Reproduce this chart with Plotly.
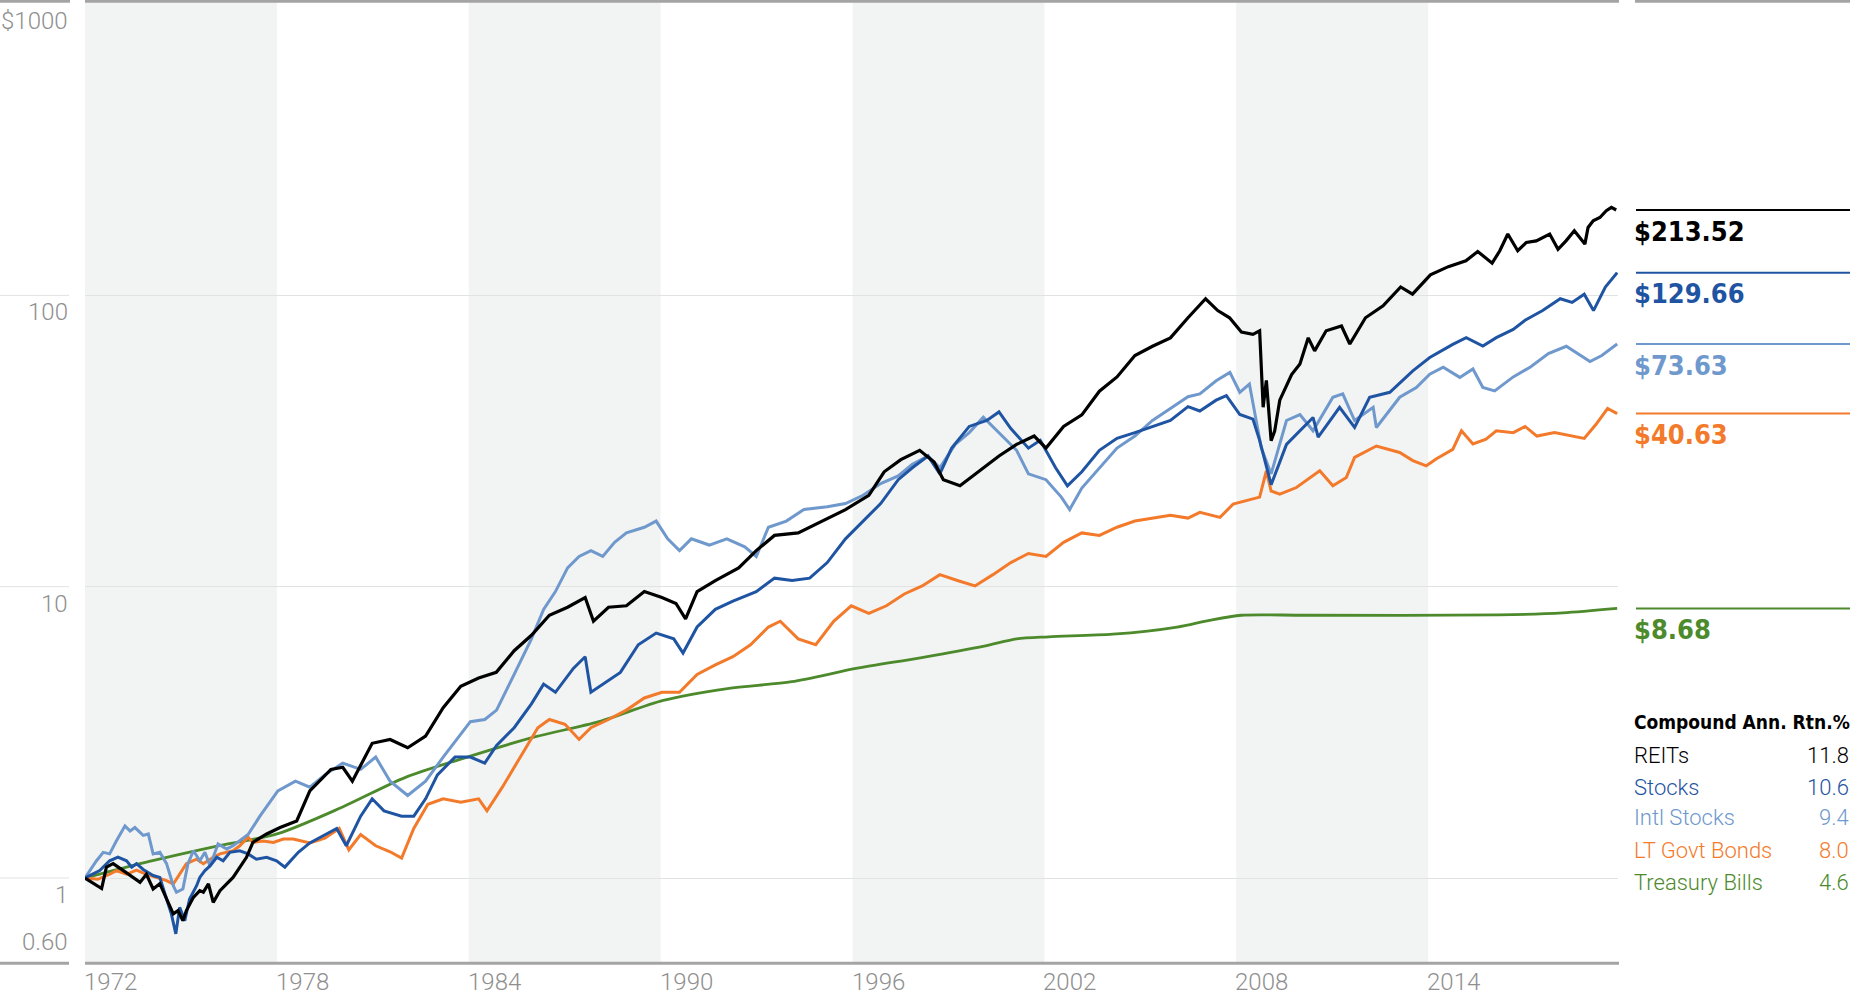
import math
import plotly.graph_objects as go

# ---------------- data (growth of $1) ----------------
reit_years = [1972.0, 1972.52, 1972.67, 1972.88, 1973.2, 1973.51, 1973.72, 1973.92, 1974.13, 1974.34, 1974.55, 1974.76, 1974.91, 1975.06, 1975.17, 1975.39, 1975.59, 1975.70, 1975.86, 1976.01, 1976.22, 1976.63, 1977.05, 1977.25, 1977.68, 1978.1, 1978.62, 1979.03, 1979.69, 1980.06, 1980.36, 1980.98, 1981.54, 1982.09, 1982.65, 1983.2, 1983.75, 1984.31, 1984.86, 1985.42, 1985.96, 1986.52, 1987.09, 1987.64, 1987.9, 1988.37, 1988.93, 1989.49, 1990.04, 1990.48, 1990.78, 1991.14, 1991.71, 1992.44, 1992.99, 1993.56, 1994.3, 1995.03, 1995.78, 1996.51, 1996.99, 1997.51, 1998.1, 1998.55, 1998.84, 1999.36, 1999.94, 2000.58, 2001.13, 2001.68, 2002.05, 2002.6, 2003.17, 2003.72, 2004.27, 2004.83, 2005.38, 2005.94, 2006.49, 2007.04, 2007.42, 2007.79, 2008.16, 2008.52, 2008.73, 2008.84, 2008.94, 2009.09, 2009.2, 2009.36, 2009.73, 2009.99, 2010.25, 2010.45, 2010.81, 2011.29, 2011.55, 2012.04, 2012.59, 2013.14, 2013.51, 2014.07, 2014.63, 2015.18, 2015.55, 2016.0, 2016.24, 2016.49, 2016.8, 2017.07, 2017.38, 2017.59, 2017.8, 2018.06, 2018.31, 2018.57, 2018.9, 2019.0, 2019.16, 2019.37, 2019.57, 2019.73, 2019.88]
reit_values = [1.0, 0.92, 1.09, 1.12, 1.06, 1.0, 0.966, 1.03, 0.917, 0.956, 0.847, 0.753, 0.773, 0.714, 0.773, 0.858, 0.905, 0.894, 0.954, 0.825, 0.905, 1.005, 1.178, 1.325, 1.416, 1.49, 1.57, 1.99, 2.36, 2.40, 2.15, 2.90, 2.99, 2.80, 3.07, 3.84, 4.55, 4.86, 5.08, 6.03, 6.81, 7.98, 8.50, 9.18, 7.61, 8.50, 8.6, 9.62, 9.18, 8.76, 7.76, 9.62, 10.5, 11.6, 13.3, 15.0, 15.3, 16.8, 18.4, 20.6, 24.8, 27.3, 29.4, 26.8, 23.3, 22.2, 24.8, 28.1, 30.8, 32.9, 29.9, 35.5, 38.9, 46.9, 52.5, 62.2, 66.9, 71.5, 83.8, 97.4, 88.7, 83.8, 74.9, 73.5, 75.6, 41.3, 51.1, 31.7, 34.2, 43.7, 53.5, 58.2, 71.5, 64.5, 75.6, 78.5, 68.1, 83.8, 92.1, 106.9, 101, 117.6, 125.5, 131.4, 141.5, 129, 142.3, 162.4, 142.3, 152, 153.9, 158, 162.4, 144, 153.9, 166.7, 150, 171.1, 180.4, 185.1, 195.3, 200.4, 196.4]

stock_years = [1972.0, 1972.46, 1972.77, 1973.03, 1973.3, 1973.46, 1973.61, 1973.82, 1974.13, 1974.34, 1974.55, 1974.7, 1974.84, 1974.96, 1975.12, 1975.27, 1975.49, 1975.59, 1975.75, 1975.91, 1976.12, 1976.32, 1976.53, 1976.84, 1977.1, 1977.36, 1977.68, 1977.99, 1978.25, 1978.51, 1978.67, 1979.03, 1979.5, 1979.87, 1980.17, 1980.62, 1980.98, 1981.35, 1981.9, 1982.28, 1982.65, 1983.02, 1983.57, 1984.05, 1984.5, 1984.87, 1985.42, 1985.96, 1986.34, 1986.71, 1987.27, 1987.64, 1987.82, 1988.19, 1988.74, 1989.3, 1989.86, 1990.41, 1990.7, 1991.14, 1991.71, 1992.26, 1992.99, 1993.56, 1994.11, 1994.66, 1995.21, 1995.78, 1996.33, 1996.88, 1997.43, 1997.87, 1998.36, 1998.73, 1999.1, 1999.65, 2000.2, 2000.58, 2000.95, 2001.5, 2001.87, 2002.35, 2002.72, 2003.17, 2003.72, 2004.27, 2004.83, 2005.38, 2005.94, 2006.49, 2006.86, 2007.37, 2007.69, 2008.11, 2008.52, 2008.73, 2009.09, 2009.57, 2009.99, 2010.4, 2010.56, 2011.23, 2011.7, 2012.17, 2012.8, 2013.52, 2014.05, 2014.77, 2015.19, 2015.71, 2016.13, 2016.66, 2017.03, 2017.58, 2018.13, 2018.5, 2018.88, 2019.17, 2019.54, 2019.91]
stock_values = [1.0, 1.06, 1.146, 1.18, 1.146, 1.09, 1.12, 1.07, 1.02, 1.005, 0.847, 0.753, 0.643, 0.793, 0.714, 0.847, 0.941, 1.005, 1.06, 1.10, 1.178, 1.146, 1.225, 1.24, 1.21, 1.16, 1.178, 1.146, 1.09, 1.178, 1.225, 1.32, 1.41, 1.48, 1.29, 1.63, 1.87, 1.70, 1.63, 1.63, 1.87, 2.26, 2.60, 2.60, 2.48, 2.85, 3.28, 3.96, 4.63, 4.34, 5.24, 5.75, 4.34, 4.63, 5.08, 6.32, 6.93, 6.62, 5.92, 7.27, 8.36, 8.92, 9.62, 10.7, 10.5, 10.7, 12.1, 14.6, 16.8, 19.3, 23.3, 25.6, 28.1, 24.4, 29.9, 35.5, 37.2, 39.8, 34.9, 29.9, 31.8, 25.6, 22.2, 24.8, 29.4, 32.3, 33.8, 35.5, 37.2, 41.5, 40.1, 43.7, 45.3, 39.0, 37.6, 31.8, 22.4, 30.8, 34.3, 38.1, 32.6, 41.3, 35.2, 44.7, 46.5, 55.1, 61.2, 67.9, 71.6, 67.0, 71.6, 76.4, 82.2, 88.7, 97.4, 94.6, 101, 88.7, 106.9, 119.7]

intl_years = [1972.0, 1972.36, 1972.57, 1972.77, 1972.98, 1973.25, 1973.41, 1973.56, 1973.82, 1973.98, 1974.13, 1974.34, 1974.55, 1974.76, 1974.86, 1975.06, 1975.22, 1975.39, 1975.59, 1975.75, 1975.91, 1976.16, 1976.43, 1976.63, 1977.1, 1977.47, 1978.03, 1978.58, 1979.03, 1979.5, 1980.06, 1980.62, 1981.09, 1981.54, 1982.09, 1982.65, 1983.2, 1983.75, 1984.05, 1984.5, 1984.87, 1985.42, 1985.96, 1986.34, 1986.71, 1987.09, 1987.45, 1987.82, 1988.19, 1988.56, 1988.93, 1989.49, 1989.86, 1990.22, 1990.59, 1990.96, 1991.52, 1992.07, 1992.63, 1992.99, 1993.37, 1993.93, 1994.48, 1995.21, 1995.78, 1996.33, 1996.88, 1997.43, 1997.87, 1998.36, 1998.73, 1999.21, 1999.65, 2000.09, 2000.58, 2001.13, 2001.5, 2002.05, 2002.53, 2002.79, 2003.17, 2003.72, 2004.27, 2004.83, 2005.38, 2005.94, 2006.49, 2006.86, 2007.37, 2007.8, 2008.11, 2008.41, 2008.78, 2009.09, 2009.57, 2009.99, 2010.4, 2011.02, 2011.33, 2011.7, 2012.28, 2012.38, 2013.11, 2013.63, 2014.05, 2014.47, 2014.99, 2015.4, 2015.71, 2016.08, 2016.66, 2017.21, 2017.76, 2018.32, 2018.69, 2019.06, 2019.43, 2019.91]
intl_values = [1.0, 1.146, 1.225, 1.21, 1.34, 1.51, 1.45, 1.49, 1.40, 1.416, 1.21, 1.225, 1.12, 0.941, 0.893, 0.917, 1.12, 1.24, 1.146, 1.225, 1.10, 1.31, 1.258, 1.29, 1.41, 1.63, 1.99, 2.15, 2.05, 2.26, 2.48, 2.36, 2.60, 2.15, 1.92, 2.15, 2.60, 3.13, 3.44, 3.5, 3.77, 5.0, 6.62, 8.36, 9.62, 11.6, 12.7, 13.3, 12.7, 14.2, 15.3, 16.0, 16.8, 14.6, 13.3, 14.6, 13.9, 14.6, 13.7, 12.7, 16.0, 16.8, 18.4, 18.8, 19.3, 20.6, 22.6, 24.0, 26.3, 28.1, 25.6, 30.8, 33.8, 38.2, 33.8, 29.4, 24.4, 23.3, 20.3, 18.4, 21.8, 25.6, 29.9, 32.9, 37.2, 40.9, 44.9, 45.9, 50.9, 54.4, 46.5, 49.6, 30.0, 24.4, 37.2, 39.0, 34.3, 44.7, 45.9, 37.2, 41.3, 35.2, 44.7, 48.3, 53.6, 56.7, 52.3, 55.9, 48.3, 47.0, 52.5, 56.9, 63.1, 66.9, 63.1, 59.3, 62.2, 68.1]

bond_years = [1972.0, 1972.4, 1972.77, 1972.98, 1973.3, 1973.61, 1973.92, 1974.24, 1974.55, 1974.76, 1974.96, 1975.17, 1975.49, 1975.7, 1976.01, 1976.22, 1976.63, 1976.84, 1977.1, 1977.25, 1977.57, 1977.89, 1978.2, 1978.51, 1979.03, 1979.5, 1979.95, 1980.25, 1980.62, 1981.09, 1981.54, 1981.9, 1982.28, 1982.72, 1983.2, 1983.75, 1984.31, 1984.57, 1985.05, 1985.6, 1986.16, 1986.52, 1987.01, 1987.45, 1987.82, 1988.37, 1988.93, 1989.49, 1990.04, 1990.59, 1991.14, 1991.71, 1992.26, 1992.81, 1993.37, 1993.74, 1994.3, 1994.85, 1995.41, 1995.96, 1996.51, 1997.06, 1997.62, 1998.18, 1998.73, 1999.28, 1999.83, 2000.39, 2000.95, 2001.5, 2002.05, 2002.6, 2003.17, 2003.72, 2004.27, 2004.83, 2005.38, 2005.94, 2006.49, 2006.86, 2007.49, 2007.9, 2008.73, 2008.94, 2009.09, 2009.36, 2009.88, 2010.61, 2011.02, 2011.44, 2011.7, 2012.38, 2013.11, 2013.52, 2013.94, 2014.26, 2014.77, 2015.04, 2015.4, 2015.81, 2016.13, 2016.66, 2017.03, 2017.4, 2017.95, 2018.5, 2018.88, 2019.25, 2019.61, 2019.91]
bond_values = [1.0, 0.99, 1.03, 1.06, 1.03, 1.065, 1.03, 1.005, 0.98, 0.954, 1.03, 1.12, 1.16, 1.12, 1.178, 1.21, 1.24, 1.29, 1.38, 1.325, 1.34, 1.325, 1.36, 1.36, 1.32, 1.37, 1.48, 1.25, 1.41, 1.29, 1.23, 1.17, 1.48, 1.79, 1.87, 1.82, 1.87, 1.70, 2.05, 2.60, 3.28, 3.5, 3.37, 2.99, 3.28, 3.5, 3.77, 4.15, 4.34, 4.34, 5.0, 5.39, 5.75, 6.32, 7.27, 7.61, 6.62, 6.32, 7.61, 8.6, 8.1, 8.6, 9.44, 10.06, 11.0, 10.5, 10.06, 11.0, 12.1, 13.0, 12.7, 14.2, 15.3, 15.0, 16.0, 16.8, 17.2, 17.6, 17.2, 17.99, 17.3, 19.2, 20.3, 25.0, 21.3, 20.8, 21.9, 25.0, 22.2, 23.7, 27.8, 30.4, 28.9, 27.1, 26.0, 27.5, 29.6, 34.3, 30.9, 32.1, 34.3, 33.8, 35.5, 32.9, 33.8, 32.9, 32.3, 36.1, 40.9, 39.3]

bill_years = [1972.0, 1974.01, 1976.02, 1978.03, 1980.04, 1982.04, 1984.05, 1986.06, 1988.07, 1990.08, 1992.09, 1994.1, 1996.11, 1998.12, 2000.12, 2001.13, 2002.13, 2004.14, 2006.15, 2007.16, 2008.16, 2010.17, 2016.2, 2018.21, 2019.91]
bill_values = [1.0, 1.14, 1.28, 1.42, 1.75, 2.22, 2.62, 3.05, 3.44, 4.07, 4.47, 4.72, 5.24, 5.70, 6.25, 6.62, 6.73, 6.87, 7.27, 7.67, 7.98, 7.98, 8.0, 8.13, 8.42]

series_names = ["REITs", "Stocks", "Intl Stocks", "LT Govt Bonds", "Treasury Bills"]
final_labels = ["$213.52", "$129.66", "$73.63", "$40.63", "$8.68"]
annual_returns = ["11.8", "10.6", "9.4", "8.0", "4.6"]

band_starts = [1972, 1984, 1996, 2008]
band_ends = [1978, 1990, 2002, 2014]
x_tick_years = [1972, 1978, 1984, 1990, 1996, 2002, 2008, 2014]
y_tick_values = [1000, 100, 10, 1]
y_tick_labels = ["$1000", "100", "10", "1"]

# ---------------- styling ----------------
COLORS = ["#000000", "#1f54a3", "#6f98cd", "#f37a2a", "#4c8a2c"]
WIDTHS = [3.2, 3.0, 3.0, 3.0, 2.8]
LIGHT = "Roboto, DejaVu Sans Condensed, sans-serif"
BOLD = "DejaVu Sans Condensed, Roboto, sans-serif"
AXIS_TXT = "#8f8f8f"
GRID = "#e2e2e2"
BORDER = "#a4a4a4"
BAND = "#f2f3f3"

W, H = 1854, 996
PL, PR, PT, PB = 85, 1618, 2, 963          # plot area in pixels
X0, X1 = 1972.0, 2019.936
Y0, Y1 = -0.2918, 3.0072                    # log10 range


def pxx(px):
    return (px - PL) / (PR - PL)


def pxy(py):
    return (PB - py) / (PB - PT)


def valy(v):
    return (math.log10(v) - Y0) / (Y1 - Y0)


def light_font(size, color):
    return dict(family=LIGHT, size=size, color=color, weight=300)


data = [
    (reit_years, reit_values),
    (stock_years, stock_values),
    (intl_years, intl_values),
    (bond_years, bond_values),
    (bill_years, bill_values),
]
for xs, ys in data:
    assert len(xs) == len(ys), (len(xs), len(ys))

fig = go.Figure()
for i in [4, 3, 2, 1, 0]:
    xs, ys = data[i]
    fig.add_trace(go.Scatter(
        x=xs, y=ys, mode="lines", name=series_names[i],
        line=dict(color=COLORS[i], width=WIDTHS[i],
                  shape="spline" if i == 4 else "linear", smoothing=0.8),
        hoverinfo="skip", showlegend=False,
    ))

shapes = []
for a, b in zip(band_starts, band_ends):
    shapes.append(dict(type="rect", xref="x", yref="paper", x0=a, x1=b, y0=0, y1=1,
                       fillcolor=BAND, line=dict(width=0), layer="below"))

# left-side gridline extensions
for v in [1, 10, 100]:
    shapes.append(dict(type="line", xref="paper", yref="paper", x0=pxx(0), x1=pxx(69),
                       y0=valy(v), y1=valy(v), line=dict(color=GRID, width=1)))

# top and bottom borders
for a, b in [(0, 70), (85, 1619), (1635, 1850)]:
    shapes.append(dict(type="line", xref="paper", yref="paper", x0=pxx(a), x1=pxx(b),
                       y0=pxy(1.3), y1=pxy(1.3), line=dict(color=BORDER, width=3)))
for a, b in [(0, 69), (85, 1619)]:
    shapes.append(dict(type="line", xref="paper", yref="paper", x0=pxx(a), x1=pxx(b),
                       y0=pxy(963.3), y1=pxy(963.3), line=dict(color=BORDER, width=3)))

annotations = []
# y labels
for v, t in zip(y_tick_values, y_tick_labels):
    yy = valy(v) if v < 1000 else pxy(4)
    annotations.append(dict(xref="paper", yref="paper", x=pxx(70), y=yy, text=t,
                            xanchor="right", yanchor="middle", yshift=-17, showarrow=False,
                            font=light_font(24, AXIS_TXT)))
annotations.append(dict(xref="paper", yref="paper", x=pxx(70), y=pxy(942), text="0.60",
                        xanchor="right", yanchor="middle", showarrow=False,
                        font=light_font(24, AXIS_TXT)))
# x labels
for yr in x_tick_years:
    annotations.append(dict(xref="x", yref="paper", x=yr, y=pxy(982), text=str(yr),
                            xanchor="left", yanchor="middle", xshift=-3, showarrow=False,
                            font=light_font(24, AXIS_TXT)))

# right-hand end-value markers
for i in range(5):
    last = data[i][1][-1]
    shapes.append(dict(type="line", xref="paper", yref="paper", x0=pxx(1636), x1=pxx(1850),
                       y0=valy(last), y1=valy(last), line=dict(color=COLORS[i], width=2)))
    annotations.append(dict(xref="paper", yref="paper", x=pxx(1632), y=valy(last),
                            text="<b>%s</b>" % final_labels[i], xanchor="left", yanchor="middle",
                            yshift=-21, showarrow=False,
                            font=dict(family=BOLD, size=27, color=COLORS[i])))

# compound return table
annotations.append(dict(xref="paper", yref="paper", x=pxx(1632), y=pxy(722),
                        text="<b>Compound Ann. Rtn.%</b>", xanchor="left", yanchor="middle",
                        showarrow=False, font=dict(family=BOLD, size=19, color="#000000")))
row_y = [755, 787, 818, 850, 882]
for i in range(5):
    annotations.append(dict(xref="paper", yref="paper", x=pxx(1632), y=pxy(row_y[i]),
                            text=series_names[i], xanchor="left", yanchor="middle",
                            showarrow=False, font=light_font(22, COLORS[i])))
    annotations.append(dict(xref="paper", yref="paper", x=pxx(1851), y=pxy(row_y[i]),
                            text=annual_returns[i], xanchor="right", yanchor="middle",
                            showarrow=False, font=light_font(22, COLORS[i])))

fig.update_layout(
    width=W, height=H, autosize=False,
    margin=dict(l=PL, r=W - PR, t=PT, b=H - PB, pad=0),
    paper_bgcolor="white", plot_bgcolor="white",
    xaxis=dict(range=[X0, X1], showgrid=False, zeroline=False, showticklabels=False,
               showline=False, ticks="", fixedrange=True),
    yaxis=dict(type="log", range=[Y0, Y1], tickvals=[1, 10, 100], showticklabels=False,
               showgrid=True, gridcolor=GRID, gridwidth=1, zeroline=False, showline=False,
               ticks="", fixedrange=True),
    shapes=shapes, annotations=annotations, showlegend=False,
)

fig.write_html("out.html", config={"displayModeBar": False, "staticPlot": True},
               post_script="document.body.style.margin='0';document.body.style.overflow='hidden';")
